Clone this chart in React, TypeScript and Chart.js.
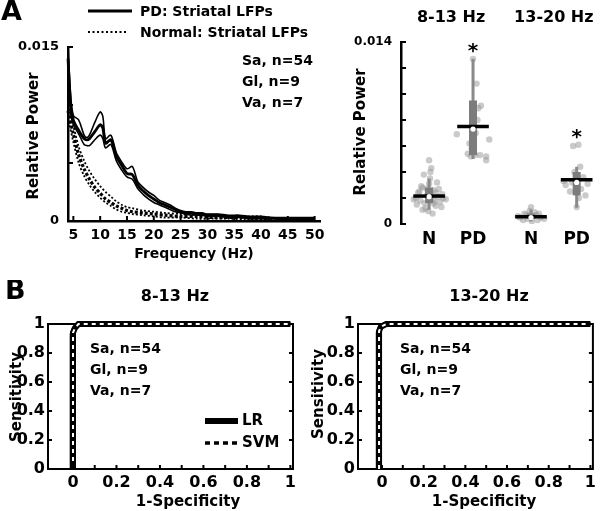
import React, { useEffect, useRef } from "react";
import { Chart, registerables } from "chart.js";

Chart.register(...registerables);

const FAM = "'DejaVu Sans', 'Liberation Sans', Arial, sans-serif";
const bold = (s: number) => `bold ${s}px ${FAM}`;
const tfont = (s: number) => ({ family: FAM, weight: "bold" as const, size: s });

// ---------- Panel A (left): relative power spectra ----------
const pdFreq = [4, 4.5, 5, 6, 7, 7.5, 8, 9, 10, 10.5, 11, 12, 13, 14, 15, 16, 17, 18, 19, 20, 21, 22, 23, 24, 25, 26, 27, 28, 29, 30, 32, 34, 36, 38, 40, 42, 44, 46, 48, 50];
const pdMean = [0.014, 0.01, 0.0087, 0.0078, 0.0071, 0.007, 0.0071, 0.0077, 0.0083, 0.008, 0.0067, 0.007, 0.0056, 0.0048, 0.0041, 0.004, 0.0031, 0.0026, 0.0022, 0.0019, 0.0016, 0.0014, 0.0012, 0.001, 0.0008, 0.0007, 0.0007, 0.0006, 0.0006, 0.0005, 0.0005, 0.0004, 0.0004, 0.0003, 0.0003, 0.00025, 0.0002, 0.0002, 0.0002, 0.0002];
const pdUpper = [0.015, 0.0108, 0.0091, 0.0087, 0.0074, 0.0072, 0.0074, 0.0085, 0.0094, 0.009, 0.0071, 0.0074, 0.0059, 0.0051, 0.0045, 0.0047, 0.0034, 0.0029, 0.0025, 0.0022, 0.0018, 0.0016, 0.0014, 0.0011, 0.0009, 0.0008, 0.0008, 0.0007, 0.0007, 0.0006, 0.0006, 0.0005, 0.0005, 0.0004, 0.0004, 0.0003, 0.0003, 0.0003, 0.0003, 0.0003];
const pdLower = [0.0128, 0.0093, 0.0083, 0.0075, 0.0066, 0.0065, 0.0065, 0.007, 0.0074, 0.0071, 0.0063, 0.0066, 0.0052, 0.0044, 0.0038, 0.0036, 0.0028, 0.0023, 0.0019, 0.0016, 0.0014, 0.0012, 0.001, 0.0008, 0.0007, 0.0006, 0.0006, 0.0005, 0.0005, 0.0004, 0.0004, 0.0003, 0.0003, 0.0002, 0.0002, 0.0002, 0.00015, 0.00015, 0.00015, 0.00015];

const nFreq = [4, 5, 6, 7, 8, 9, 10, 11, 12, 13, 14, 15, 16, 18, 20, 22, 25, 28, 31, 34, 37, 40, 42];
const nMean = [0.0095, 0.0075, 0.0057, 0.0045, 0.0036, 0.0029, 0.0024, 0.0019, 0.0016, 0.0013, 0.0011, 0.0009, 0.0008, 0.0007, 0.0006, 0.0005, 0.0004, 0.0004, 0.0003, 0.0003, 0.0003, 0.0002, 0.0002];
const nUpper = [0.01, 0.0082, 0.0064, 0.0052, 0.0043, 0.0036, 0.003, 0.0025, 0.0021, 0.0017, 0.0014, 0.0012, 0.0011, 0.0009, 0.0008, 0.0007, 0.0006, 0.0005, 0.0005, 0.0004, 0.0004, 0.0004, 0.0003];
const nLower = [0.0089, 0.0068, 0.005, 0.0039, 0.0031, 0.0025, 0.002, 0.0016, 0.0013, 0.001, 0.0008, 0.0007, 0.0006, 0.0005, 0.0004, 0.0003, 0.0003, 0.0002, 0.0002, 0.0002, 0.0001, 0.0001, 0.0001];

const specXTicks = [5, 10, 15, 20, 25, 30, 35, 40, 45, 50];
const specYTicks = [0, 0.005, 0.01, 0.015];
const specYLabels = ["0", "", "", "0.015"];
const legendLabels = ["PD: Striatal LFPs", "Normal: Striatal LFPs"];
const subjectLines = ["Sa, n=54", "Gl, n=9", "Va, n=7"];

// ---------- Panel A (right): band power per group ----------
const bandTitles = ["8-13 Hz", "13-20 Hz"];
const groupLabels = ["N", "PD", "N", "PD"];
const groupPos = [1, 2, 3.32, 4.36];
const groupMean = [0.00215, 0.0075, 0.00056, 0.0034];
const groupMedian = [0.0021, 0.0073, 0.0005, 0.0032];
const groupQ1 = [0.0016, 0.0053, 0.0004, 0.0022];
const groupQ3 = [0.0028, 0.0095, 0.0008, 0.004];
const groupWhiskLo = [0.0011, 0.005, 0.0002, 0.00125];
const groupWhiskHi = [0.0035, 0.0127, 0.0011, 0.0044];
const groupStar = [false, true, false, true];
const dotsN813: [number, number][] = [[-0.3, 0.002], [-0.25, 0.0024], [-0.2, 0.0018], [-0.15, 0.0028], [-0.1, 0.0016], [-0.05, 0.0022], [0, 0.0031], [0.05, 0.0019], [0.1, 0.0026], [0.15, 0.0014], [0.2, 0.0021], [0.25, 0.0017], [0.3, 0.0023], [-0.28, 0.0015], [-0.18, 0.0029], [-0.08, 0.0012], [0.02, 0.0035], [0.12, 0.0018], [0.22, 0.0027], [0.32, 0.002], [-0.12, 0.0038], [0, 0.0049], [0.05, 0.0043], [-0.02, 0.001], [0.08, 0.0008], [-0.22, 0.0025], [0.18, 0.0032], [-0.35, 0.0019], [0.28, 0.0013], [-0.05, 0.0027], [0.1, 0.0016], [0.03, 0.004], [-0.15, 0.0011], [0.15, 0.0024], [0.38, 0.0019]];
const dotsPD813: [number, number][] = [[0, 0.0127], [0.08, 0.0108], [0.18, 0.0091], [0.12, 0.0089], [-0.37, 0.0069], [0.37, 0.0065], [-0.12, 0.0054], [0.05, 0.0053], [0.16, 0.0053], [0.3, 0.0052], [0.3, 0.0049], [-0.05, 0.0052], [0.1, 0.008], [-0.08, 0.0062], [0.06, 0.007], [-0.03, 0.0058]];
const dotsN1320: [number, number][] = [[0, 0.0013], [-0.03, 0.001], [-0.15, 0.0008], [0.12, 0.0007], [-0.25, 0.0005], [0.22, 0.0005], [0.05, 0.0006], [-0.08, 0.0004], [0.15, 0.0003], [-0.18, 0.0003], [0.3, 0.0004], [-0.3, 0.0006], [0.08, 0.0009], [-0.1, 0.0007], [0.02, 0.0002], [0.18, 0.0008]];
const dotsPD1320: [number, number][] = [[-0.08, 0.006], [0.04, 0.0061], [0.08, 0.0044], [-0.25, 0.003], [-0.1, 0.0032], [0.2, 0.0022], [-0.3, 0.0033], [0.1, 0.0027], [0, 0.0013], [0.15, 0.0036], [-0.15, 0.0025], [0.25, 0.0031], [-0.05, 0.004], [0.05, 0.002]];
const groupDots = [dotsN813, dotsPD813, dotsN1320, dotsPD1320];
const bandYTicks = [0, 0.002, 0.004, 0.006, 0.008, 0.01, 0.012, 0.014];
const bandYLabels = ["0", "", "", "", "", "", "", "0.014"];

// ---------- Panel B: ROC curves ----------
const rocTicks = [0, 0.2, 0.4, 0.6, 0.8, 1];
const rocMinorX = [0, 0.1, 0.2, 0.3, 0.4, 0.5, 0.6, 0.7, 0.8, 0.9, 1];
const lrFpr813 = [-0.006, -0.006, 0.004, 0.02, 1];
const lrTpr813 = [0, 0.93, 0.97, 1, 1];
const svmFpr813 = [0.0, 0.0, 0.008, 0.025, 1];
const svmTpr813 = [0, 0.94, 0.97, 1, 1];
const lrFpr1320 = [-0.02, -0.02, -0.012, 0.012, 1];
const lrTpr1320 = [0, 0.94, 0.97, 1, 1];
const svmFpr1320 = [-0.014, -0.014, -0.006, 0.02, 1];
const svmTpr1320 = [0, 0.95, 0.98, 1, 1];
const rocLegend = ["LR", "SVM"];

function xy(xs: number[], ys: number[]) {
  return xs.map((x, i) => ({ x, y: ys[i] }));
}

function baseOptions(padding: any) {
  return {
    responsive: false,
    animation: false as const,
    devicePixelRatio: 1,
    layout: { padding },
    plugins: { legend: { display: false }, tooltip: { enabled: false }, title: { display: false } },
    elements: { point: { radius: 0 } },
  };
}

function inwardTicks(ctx: CanvasRenderingContext2D, chart: any, axis: "x" | "y", vals: number[], side: "left" | "right" | "bottom", len: number, lw: number) {
  const ca = chart.chartArea;
  const sc = chart.scales[axis];
  ctx.save();
  ctx.strokeStyle = "#000";
  ctx.lineWidth = lw;
  ctx.setLineDash([]);
  ctx.beginPath();
  vals.forEach((v) => {
    const p = sc.getPixelForValue(v);
    if (side === "left") { ctx.moveTo(ca.left, p); ctx.lineTo(ca.left + len, p); }
    if (side === "right") { ctx.moveTo(ca.right, p); ctx.lineTo(ca.right - len, p); }
    if (side === "bottom") { ctx.moveTo(p, ca.bottom); ctx.lineTo(p, ca.bottom - len); }
  });
  ctx.stroke();
  ctx.restore();
}

function vText(ctx: CanvasRenderingContext2D, text: string, x: number, y: number, size: number) {
  ctx.save();
  ctx.translate(x, y);
  ctx.rotate(-Math.PI / 2);
  ctx.font = bold(size);
  ctx.textAlign = "center";
  ctx.textBaseline = "middle";
  ctx.fillStyle = "#000";
  ctx.fillText(text, 0, 0);
  ctx.restore();
}

function spectraConfig(): any {
  const decor = {
    id: "decorA",
    afterDraw(chart: any) {
      const ctx = chart.ctx as CanvasRenderingContext2D;
      const ca = chart.chartArea;
      inwardTicks(ctx, chart, "y", specYTicks, "left", 5, 2);
      inwardTicks(ctx, chart, "x", specXTicks, "bottom", 5, 2);
      ctx.save();
      ctx.fillStyle = "#000";
      ctx.textBaseline = "middle";
      ctx.textAlign = "left";
      ctx.font = bold(27);
      ctx.fillText("A", 1, 13);
      // legend
      ctx.strokeStyle = "#000";
      ctx.lineWidth = 3;
      ctx.beginPath(); ctx.moveTo(88, 11); ctx.lineTo(132, 11); ctx.stroke();
      ctx.lineWidth = 2.2;
      ctx.setLineDash([2, 2.5]);
      ctx.beginPath(); ctx.moveTo(88, 32); ctx.lineTo(128, 32); ctx.stroke();
      ctx.setLineDash([]);
      ctx.font = bold(14);
      ctx.fillText(legendLabels[0], 140, 12);
      ctx.fillText(legendLabels[1], 140, 33);
      subjectLines.forEach((t, i) => ctx.fillText(t, 242, 61 + i * 21));
      ctx.textAlign = "center";
      ctx.font = bold(14);
      ctx.fillText("Frequency (Hz)", (ca.left + ca.right) / 2, 254);
      ctx.restore();
      vText(ctx, "Relative Power", 34, 136, 15);
    },
  };
  const line = (data: any, w: number, dash: number[], order: number) => ({
    data, showLine: true, borderColor: "#000", borderWidth: w, borderDash: dash, pointRadius: 0, tension: 0.3, order, clip: false,
  });
  return {
    type: "scatter",
    data: {
      datasets: [
        line(xy(pdFreq, pdMean), 2.8, [], 0),
        line(xy(pdFreq, pdUpper), 1.6, [], 1),
        line(xy(pdFreq, pdLower), 1.6, [], 1),
        line(xy(nFreq, nMean), 3.2, [3, 2], 2),
        line(xy(nFreq, nUpper), 1.8, [2, 2], 3),
        line(xy(nFreq, nLower), 1.8, [2, 2], 3),
      ],
    },
    options: {
      ...baseOptions({ left: 0, top: 47, right: 20, bottom: 0 }),
      scales: {
        x: {
          type: "linear", min: 4, max: 51,
          afterFit: (s: any) => { s.height = 49; },
          afterBuildTicks: (s: any) => { s.ticks = specXTicks.map((v) => ({ value: v })); },
          grid: { display: false, drawTicks: false },
          border: { display: true, color: "#000", width: 2.5 },
          ticks: { font: tfont(14), color: "#000", padding: 6, maxRotation: 0, autoSkip: false, callback: (v: any) => String(v) },
        },
        y: {
          type: "linear", min: 0, max: 0.015,
          afterFit: (s: any) => { s.width = 68; },
          afterBuildTicks: (s: any) => { s.ticks = specYTicks.map((v) => ({ value: v })); },
          grid: { display: false, drawTicks: false },
          border: { display: true, color: "#000", width: 2.5 },
          ticks: { font: tfont(13), color: "#000", padding: 9, autoSkip: false, callback: (_v: any, i: number) => specYLabels[i] },
        },
      },
    },
    plugins: [decor],
  };
}

function bandConfig(): any {
  const datasets: any[] = [];
  groupPos.forEach((p, g) => {
    datasets.push({
      type: "scatter",
      data: groupDots[g].map(([dx, v]) => ({ x: p + dx, y: v })),
      pointRadius: 3.2, pointBackgroundColor: "rgba(150,150,150,0.5)", pointBorderWidth: 0, order: 5,
    });
    datasets.push({ data: [{ x: p, y: groupWhiskLo[g] }, { x: p, y: groupWhiskHi[g] }], showLine: true, borderColor: "#8a8a8a", borderWidth: 3, pointRadius: 0, order: 4, borderCapStyle: "butt" });
    datasets.push({ data: [{ x: p, y: groupQ1[g] }, { x: p, y: groupQ3[g] }], showLine: true, borderColor: "#7c7c7c", borderWidth: 8, pointRadius: 0, order: 3, borderCapStyle: "butt" });
    datasets.push({ data: [{ x: p - 0.36, y: groupMean[g] }, { x: p + 0.36, y: groupMean[g] }], showLine: true, borderColor: "#000", borderWidth: 3.5, pointRadius: 0, order: 2, borderCapStyle: "butt" });
    datasets.push({ data: [{ x: p, y: groupMedian[g] }], pointRadius: 2.6, pointBackgroundColor: "#fff", pointBorderWidth: 0, order: 1 });
  });
  const decor = {
    id: "decorAR",
    afterDraw(chart: any) {
      const ctx = chart.ctx as CanvasRenderingContext2D;
      const xs = chart.scales.x;
      const ys = chart.scales.y;
      inwardTicks(ctx, chart, "y", bandYTicks, "left", 5, 2);
      ctx.save();
      ctx.fillStyle = "#000";
      ctx.textAlign = "center";
      ctx.textBaseline = "middle";
      ctx.font = bold(16);
      bandTitles.forEach((t, b) => {
        const cx = (xs.getPixelForValue(groupPos[2 * b]) + xs.getPixelForValue(groupPos[2 * b + 1])) / 2;
        ctx.fillText(t, cx, 18);
      });
      ctx.font = bold(20);
      ctx.textBaseline = "alphabetic";
      groupPos.forEach((p, g) => {
        if (!groupStar[g]) return;
        const top = Math.max(groupWhiskHi[g], ...groupDots[g].map((d) => d[1]));
        ctx.fillText("*", xs.getPixelForValue(p), ys.getPixelForValue(top) - 2);
      });
      ctx.restore();
      vText(ctx, "Relative Power", 21.5, 132, 15);
    },
  };
  return {
    type: "scatter",
    data: { datasets },
    options: {
      ...baseOptions({ left: 0, top: 42, right: 2, bottom: 0 }),
      scales: {
        x: {
          type: "linear", min: 0.36, max: 4.8,
          afterFit: (s: any) => { s.height = 46; },
          afterBuildTicks: (s: any) => { s.ticks = groupPos.map((v) => ({ value: v })); },
          grid: { display: false, drawTicks: false },
          border: { display: false },
          ticks: { font: tfont(17), color: "#000", padding: 5, maxRotation: 0, autoSkip: false, callback: (_v: any, i: number) => groupLabels[i] },
        },
        y: {
          type: "linear", min: 0, max: 0.014,
          afterFit: (s: any) => { s.width = 61; },
          afterBuildTicks: (s: any) => { s.ticks = bandYTicks.map((v) => ({ value: v })); },
          grid: { display: false, drawTicks: false },
          border: { display: true, color: "#000", width: 2.5 },
          ticks: { font: tfont(12), color: "#000", padding: 9, autoSkip: false, callback: (_v: any, i: number) => bandYLabels[i] },
        },
      },
    },
    plugins: [decor],
  };
}

interface RocSpec {
  title: string; lrF: number[]; lrT: number[]; svmF: number[]; svmT: number[];
  letter: boolean; legend: boolean; yAxisW: number; padRight: number;
  titleX: number; yLabelX: number; yLabelY: number; xLabelX: number; annotX: number;
}

function rocConfig(sp: RocSpec): any {
  const decor = {
    id: "decorB",
    afterDraw(chart: any) {
      const ctx = chart.ctx as CanvasRenderingContext2D;
      const ca = chart.chartArea;
      inwardTicks(ctx, chart, "x", rocMinorX, "bottom", 4, 2);
      inwardTicks(ctx, chart, "y", rocTicks, "left", 4, 2);
      inwardTicks(ctx, chart, "y", rocTicks, "right", 4, 2);
      ctx.save();
      ctx.fillStyle = "#000";
      ctx.textBaseline = "middle";
      if (sp.letter) {
        ctx.textAlign = "left";
        ctx.font = bold(27);
        ctx.fillText("B", 5, 12);
      }
      ctx.textAlign = "center";
      ctx.font = bold(16);
      ctx.fillText(sp.title, sp.titleX, 17);
      ctx.font = bold(15);
      ctx.fillText("1-Specificity", sp.xLabelX, 222);
      ctx.textAlign = "left";
      ctx.font = bold(14);
      subjectLines.forEach((t, i) => ctx.fillText(t, sp.annotX, 69 + i * 21));
      if (sp.legend) {
        ctx.strokeStyle = "#000";
        ctx.lineWidth = 6;
        ctx.beginPath(); ctx.moveTo(205, 141); ctx.lineTo(238, 141); ctx.stroke();
        ctx.lineWidth = 3.5;
        ctx.setLineDash([5, 4]);
        ctx.beginPath(); ctx.moveTo(205, 163); ctx.lineTo(238, 163); ctx.stroke();
        ctx.setLineDash([]);
        ctx.font = bold(15);
        ctx.fillText(rocLegend[0], 242, 141);
        ctx.fillText(rocLegend[1], 242, 163);
      }
      ctx.restore();
      vText(ctx, "Sensitivity", sp.yLabelX, sp.yLabelY, 15);
    },
    beforeDatasetsDraw(chart: any) {
      const ctx = chart.ctx as CanvasRenderingContext2D;
      const ca = chart.chartArea;
      ctx.save();
      ctx.strokeStyle = "#000";
      ctx.lineWidth = 2;
      ctx.strokeRect(ca.left, ca.top, ca.right - ca.left, ca.bottom - ca.top);
      ctx.restore();
    },
  };
  return {
    type: "scatter",
    data: {
      datasets: [
        { data: xy(sp.svmF, sp.svmT), showLine: true, borderColor: "#fff", borderWidth: 2, borderDash: [4, 4], pointRadius: 0, order: 0, clip: false },
        { data: xy(sp.svmF, sp.svmT), showLine: true, borderColor: "#000", borderWidth: 6, pointRadius: 0, order: 1, clip: false },
        { data: xy(sp.lrF, sp.lrT), showLine: true, borderColor: "#000", borderWidth: 4, pointRadius: 0, order: 2, clip: false },
      ],
    },
    options: {
      ...baseOptions({ left: 0, top: 44, right: sp.padRight, bottom: 0 }),
      scales: {
        x: {
          type: "linear", min: -0.115, max: 1.012,
          afterFit: (s: any) => { s.height = 42; },
          afterBuildTicks: (s: any) => { s.ticks = rocTicks.map((v) => ({ value: v })); },
          grid: { display: false, drawTicks: false },
          border: { display: false },
          ticks: { font: tfont(16), color: "#000", padding: 4, maxRotation: 0, autoSkip: false, callback: (_v: any, i: number) => String(rocTicks[i]) },
        },
        y: {
          type: "linear", min: 0, max: 1,
          afterFit: (s: any) => { s.width = sp.yAxisW; },
          afterBuildTicks: (s: any) => { s.ticks = rocTicks.map((v) => ({ value: v })); },
          grid: { display: false, drawTicks: false },
          border: { display: false },
          ticks: { font: tfont(16), color: "#000", padding: 3, autoSkip: false, callback: (_v: any, i: number) => String(rocTicks[i]) },
        },
      },
    },
    plugins: [decor],
  };
}

function ChartCanvas({ left, top, width, height, build }: { left: number; top: number; width: number; height: number; build: () => any }) {
  const ref = useRef<HTMLCanvasElement>(null);
  useEffect(() => {
    const chart = new Chart(ref.current as HTMLCanvasElement, build());
    return () => chart.destroy();
  }, []);
  return <canvas ref={ref} width={width} height={height} style={{ position: "absolute", left, top, width, height }} />;
}

export default function App() {
  return (
    <div style={{ position: "fixed", left: 0, top: 0, width: 600, height: 511, background: "#fff", overflow: "hidden" }}>
      <ChartCanvas left={0} top={0} width={340} height={270} build={spectraConfig} />
      <ChartCanvas left={340} top={0} width={260} height={270} build={bandConfig} />
      <ChartCanvas
        left={0} top={280} width={300} height={231}
        build={() => rocConfig({ title: bandTitles[0], lrF: lrFpr813, lrT: lrTpr813, svmF: svmFpr813, svmT: svmTpr813, letter: true, legend: true, yAxisW: 48, padRight: 5, titleX: 175, yLabelX: 17.5, yLabelY: 117, xLabelX: 188, annotX: 90 })}
      />
      <ChartCanvas
        left={300} top={280} width={300} height={231}
        build={() => rocConfig({ title: bandTitles[1], lrF: lrFpr1320, lrT: lrTpr1320, svmF: svmFpr1320, svmT: svmTpr1320, letter: false, legend: false, yAxisW: 58, padRight: 3, titleX: 189, yLabelX: 19.5, yLabelY: 114, xLabelX: 184, annotX: 100 })}
      />
    </div>
  );
}
